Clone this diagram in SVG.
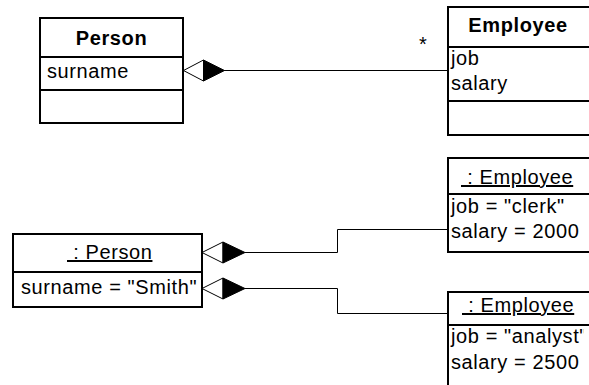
<svg xmlns="http://www.w3.org/2000/svg" width="589" height="385" viewBox="0 0 589 385">
<style>
.box{fill:#fff;stroke:#000;stroke-width:2}
.div{stroke:#000;stroke-width:2}
.t{font-family:"Liberation Sans",Arial,sans-serif;font-size:20px;letter-spacing:0.6px;fill:#000}
.b{font-weight:bold}
.u{text-decoration:underline}
.c{fill:none;stroke:#000;stroke-width:1}
.od{fill:#fff;stroke:#000;stroke-width:1}
.fd{fill:#000;stroke:#000;stroke-width:1}
</style>
<defs>
<clipPath id="clipR"><rect x="0" y="0" width="583.5" height="385"/></clipPath>
</defs>
<rect width="589" height="385" fill="#fff"/>
<g id="connectors">
<path class="c" d="M224,70.5 H448"/>
<path class="od" d="M183.5,70.5 L203.5,60 L203.5,81 Z"/>
<path class="fd" d="M203.5,60 L224.5,70.5 L203.5,81 Z"/>
<path class="c" d="M245,252.5 H337.5 V229.5 H448"/>
<path class="od" d="M202,252.5 L223,242 L223,263 Z"/>
<path class="fd" d="M223,242 L245,252.5 L223,263 Z"/>
<path class="c" d="M245,288.5 H337.5 V313.5 H448"/>
<path class="od" d="M202,288.5 L223,278 L223,299 Z"/>
<path class="fd" d="M223,278 L245,288.5 L223,299 Z"/>
<text class="t" x="419" y="51">*</text>
</g>
<g id="person-class">
<rect class="box" x="40" y="18" width="143" height="105"/>
<line class="div" x1="40" y1="57" x2="183" y2="57"/>
<line class="div" x1="40" y1="90" x2="183" y2="90"/>
<text class="t b" x="111.5" y="45" text-anchor="middle">Person</text>
<text class="t" x="47" y="78">surname</text>
</g>
<g id="employee-class">
<rect class="box" x="448" y="7" width="160" height="128"/>
<line class="div" x1="448" y1="47" x2="600" y2="47"/>
<line class="div" x1="448" y1="101" x2="600" y2="101"/>
<text class="t b" x="518" y="32" text-anchor="middle">Employee</text>
<text class="t" x="451" y="65">job</text>
<text class="t" x="451" y="90">salary</text>
</g>
<g id="person-object">
<rect class="box" x="13" y="234" width="189" height="73"/>
<line class="div" x1="13" y1="272" x2="202" y2="272"/>
<text class="t u" x="67" y="259" xml:space="preserve"> : Person</text>
<text class="t" x="21" y="294">surname = "Smith"</text>
</g>
<g id="employee-object-1">
<rect class="box" x="448" y="158" width="160" height="94"/>
<line class="div" x1="448" y1="194" x2="600" y2="194"/>
<text class="t u" x="461" y="184" xml:space="preserve"> : Employee</text>
<text class="t" x="451" y="213">job = "clerk"</text>
<text class="t" x="451" y="238">salary = 2000</text>
</g>
<g id="employee-object-2">
<rect class="box" x="448" y="292" width="160" height="100"/>
<line class="div" x1="448" y1="325" x2="600" y2="325"/>
<text class="t u" x="462" y="312" xml:space="preserve"> : Employee</text>
<text class="t" x="451" y="343" clip-path="url(#clipR)">job = "analyst"</text>
<text class="t" x="451" y="369">salary = 2500</text>
</g>
</svg>
